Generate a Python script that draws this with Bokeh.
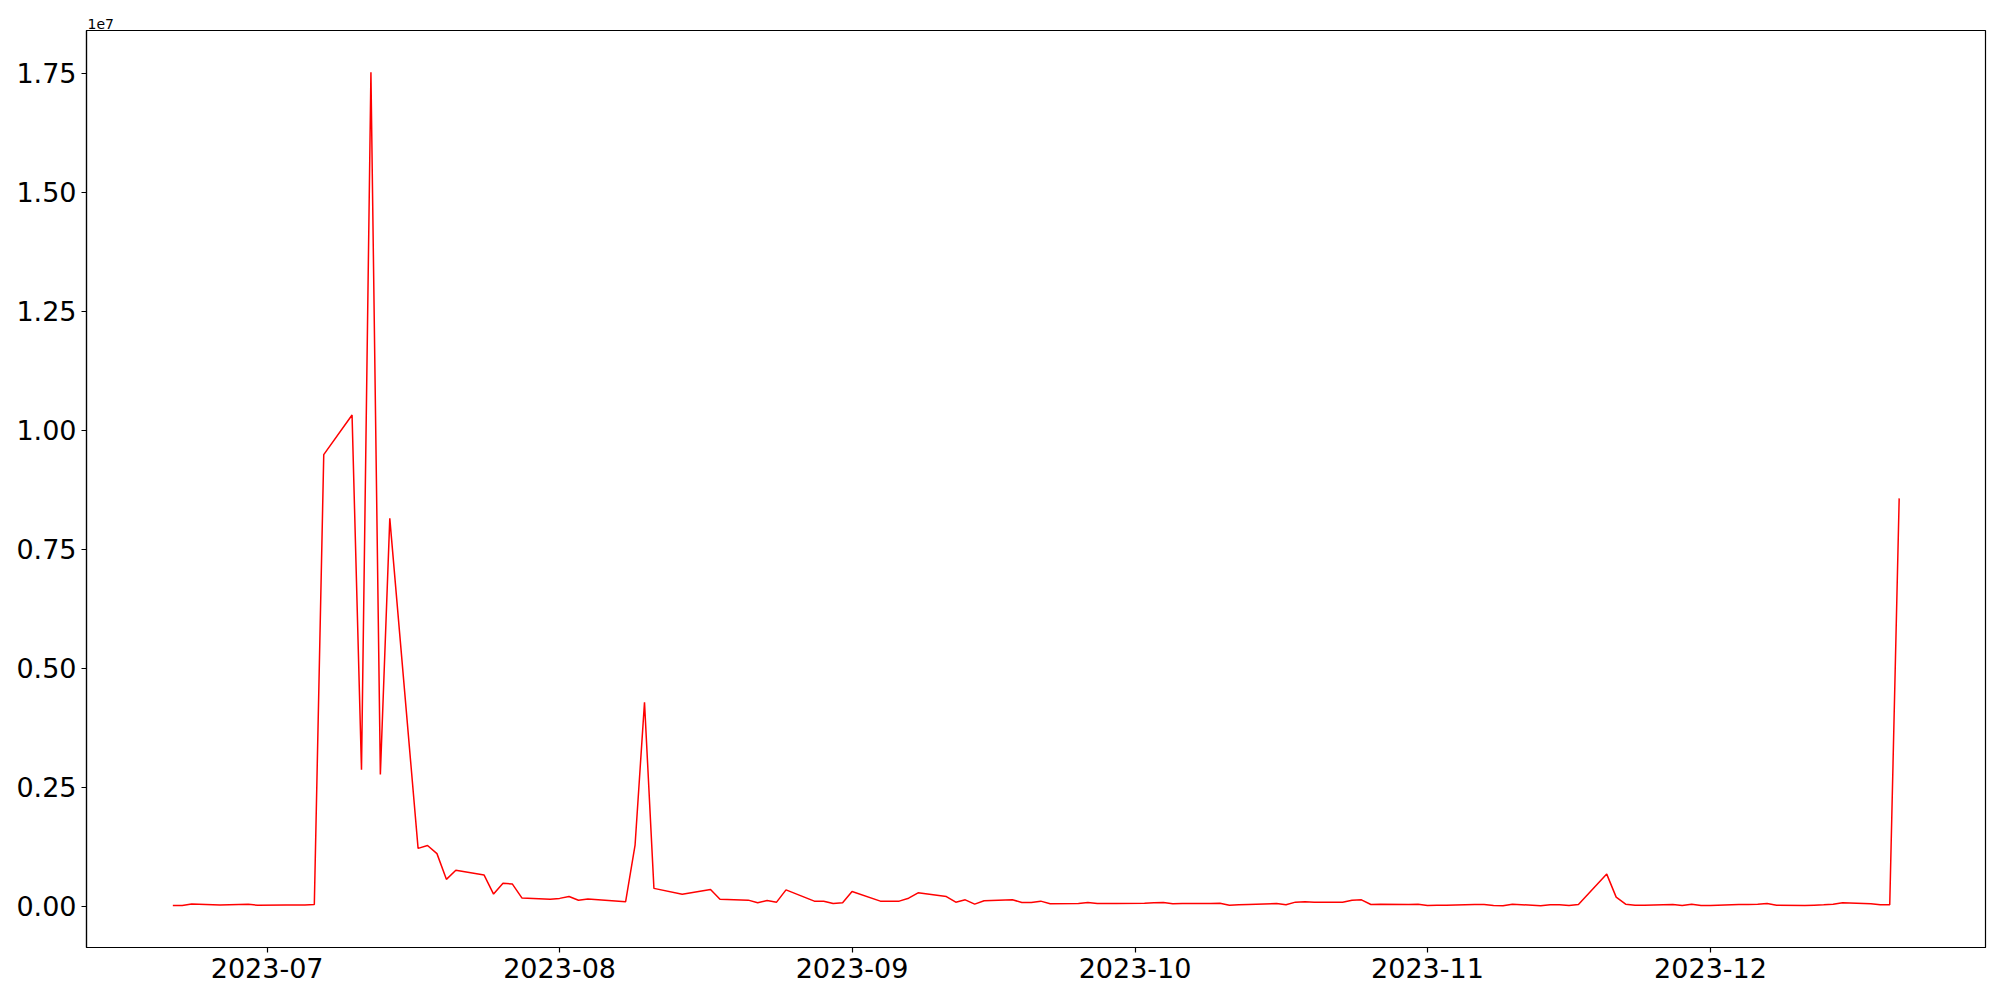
import numpy as np
import pandas as pd
from bokeh.plotting import figure
from bokeh.models import Range1d, FixedTicker, CustomJSTickFormatter
from bokeh.embed import file_html
from bokeh.resources import INLINE

# ---- data ----
dates = [
    "2023-06-21", "2023-06-22", "2023-06-23", "2023-06-26", "2023-06-29", "2023-06-30",
    "2023-07-03", "2023-07-05", "2023-07-06", "2023-07-07", "2023-07-10", "2023-07-11",
    "2023-07-12", "2023-07-13", "2023-07-14", "2023-07-17", "2023-07-18", "2023-07-19",
    "2023-07-20", "2023-07-21", "2023-07-24", "2023-07-25", "2023-07-26", "2023-07-27",
    "2023-07-28", "2023-07-31", "2023-08-01", "2023-08-02", "2023-08-03", "2023-08-04",
    "2023-08-08", "2023-08-09", "2023-08-10", "2023-08-11", "2023-08-14", "2023-08-17",
    "2023-08-18", "2023-08-21", "2023-08-22", "2023-08-23", "2023-08-24", "2023-08-25",
    "2023-08-28", "2023-08-29", "2023-08-30", "2023-08-31", "2023-09-01", "2023-09-04",
    "2023-09-06", "2023-09-07", "2023-09-08", "2023-09-11", "2023-09-12", "2023-09-13",
    "2023-09-14", "2023-09-15", "2023-09-18", "2023-09-19", "2023-09-20", "2023-09-21",
    "2023-09-22", "2023-09-25", "2023-09-26", "2023-09-27", "2023-09-28", "2023-09-29",
    "2023-10-02", "2023-10-03", "2023-10-04", "2023-10-05", "2023-10-06", "2023-10-09",
    "2023-10-10", "2023-10-11", "2023-10-12", "2023-10-13", "2023-10-16", "2023-10-17",
    "2023-10-18", "2023-10-19", "2023-10-20", "2023-10-23", "2023-10-24", "2023-10-25",
    "2023-10-26", "2023-10-27", "2023-10-30", "2023-10-31", "2023-11-01", "2023-11-02",
    "2023-11-03", "2023-11-06", "2023-11-07", "2023-11-08", "2023-11-09", "2023-11-10",
    "2023-11-13", "2023-11-14", "2023-11-15", "2023-11-16", "2023-11-17", "2023-11-20",
    "2023-11-21", "2023-11-22", "2023-11-23", "2023-11-24", "2023-11-27", "2023-11-28",
    "2023-11-29", "2023-11-30", "2023-12-01", "2023-12-04", "2023-12-05", "2023-12-06",
    "2023-12-07", "2023-12-08", "2023-12-11", "2023-12-12", "2023-12-13", "2023-12-14",
    "2023-12-15", "2023-12-18", "2023-12-19", "2023-12-20", "2023-12-21",
]
volumes = [
    20000, 20000, 50000, 30000, 45000, 25000,
    30000, 30000, 40000, 9490000, 10320000, 2870000,
    17520000, 2770000, 8150000, 1220000, 1280000, 1110000,
    570000, 760000, 660000, 260000, 490000, 470000,
    180000, 150000, 170000, 210000, 130000, 155000,
    100000, 1290000, 4290000, 380000, 258000, 356000,
    154000, 133000, 77000, 126000, 91000, 349000,
    112000, 112000, 63000, 77000, 314000, 112000,
    112000, 174000, 286000, 209000, 90000, 140000,
    49000, 119000, 140000, 84000, 84000, 112000,
    56000, 63000, 84000, 63000, 63000, 63000,
    70000, 77000, 84000, 56000, 63000, 63000,
    70000, 28000, 35000, 42000, 63000, 35000,
    91000, 98000, 91000, 91000, 133000, 140000,
    42000, 49000, 42000, 49000, 21000, 28000,
    28000, 42000, 42000, 21000, 14000, 49000,
    14000, 35000, 35000, 21000, 42000, 680000,
    196000, 49000, 28000, 28000, 42000, 21000,
    49000, 21000, 21000, 42000, 42000, 49000,
    63000, 28000, 21000, 28000, 35000, 49000,
    77000, 56000, 35000, 35000, 8570000,
]
y_ticks = [0, 2.5e6, 5.0e6, 7.5e6, 1.0e7, 1.25e7, 1.5e7, 1.75e7]
y_tick_labels = ["0.00", "0.25", "0.50", "0.75", "1.00", "1.25", "1.50", "1.75"]
x_tick_dates = ["2023-07-01", "2023-08-01", "2023-09-01", "2023-10-01", "2023-11-01", "2023-12-01"]
x_tick_labels = ["2023-07", "2023-08", "2023-09", "2023-10", "2023-11", "2023-12"]
offset_text = "1e7"

# ---- build ----
def to_ms(ds):
    return [float(t.value // 10**6) for t in pd.to_datetime(ds)]

x_ms = to_ms(dates)
x_tick_ms = to_ms(x_tick_dates)

xmin, xmax = min(x_ms), max(x_ms)
ymin, ymax = min(volumes), max(volumes)
mx = 0.05 * (xmax - xmin)
my = 0.05 * (ymax - ymin)

FONT = "DejaVu Sans"

p = figure(
    x_axis_type="datetime",
    frame_width=1899, frame_height=917,
    min_border_left=86, min_border_top=30, min_border_right=10, min_border_bottom=45,
    output_backend="svg", toolbar_location=None,
    x_range=Range1d(xmin - mx, xmax + mx),
    y_range=Range1d(ymin - my, ymax + my),
    title=offset_text,
)
p.grid.visible = False
p.outline_line_color = "black"
p.outline_line_width = 1.2
p.background_fill_color = "white"
p.border_fill_color = "white"

p.title.text_font = FONT
p.title.text_font_size = "14px"
p.title.text_font_style = "normal"
p.title.text_color = "black"
p.title.align = "left"
p.title.offset = 1
p.title.standoff = 3

p.line(x_ms, volumes, line_color="red", line_width=1.5)

for ax in (p.xaxis[0], p.yaxis[0]):
    ax.axis_line_color = "black"
    ax.axis_line_width = 1.2
    ax.major_tick_line_color = "black"
    ax.major_tick_line_width = 1.2
    ax.major_tick_out = 5
    ax.major_tick_in = 0
    ax.minor_tick_line_color = None
    ax.major_label_text_font = FONT
    ax.major_label_text_font_size = "27px"
    ax.major_label_text_color = "black"
    ax.major_label_standoff = 5

LOOKUP = "const i = tvals.indexOf(tick); return i >= 0 ? tlabels[i] : '';"
p.xaxis[0].ticker = FixedTicker(ticks=x_tick_ms)
p.xaxis[0].formatter = CustomJSTickFormatter(
    args=dict(tvals=x_tick_ms, tlabels=x_tick_labels), code=LOOKUP)
p.yaxis[0].ticker = FixedTicker(ticks=y_ticks)
p.yaxis[0].formatter = CustomJSTickFormatter(
    args=dict(tvals=y_ticks, tlabels=y_tick_labels), code=LOOKUP)

open("out.html", "w").write(file_html(p, INLINE))
